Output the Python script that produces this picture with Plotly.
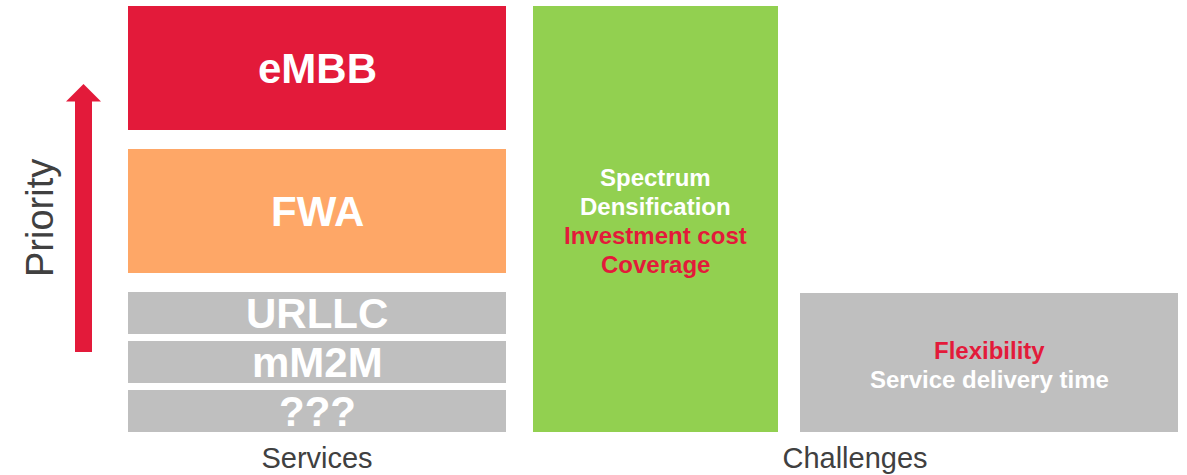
import plotly.graph_objects as go

# ---- data ----
categories = ["Services", "Challenges"]
service_names = ["???", "mM2M", "URLLC", "FWA", "eMBB"]
service_values = [42, 42, 42, 124, 124]
service_gaps = [7, 7, 19, 19]          # spacing above each segment
challenge_groups = ["Technical", "Operational"]
challenge_values = [426, 139]
challenge_texts = [
    ["Spectrum", "Densification", "Investment cost", "Coverage"],
    ["Flexibility", "Service delivery time"],
]
challenge_text_red = [
    [False, False, True, True],
    [True, False],
]

# ---- style / layout constants ----
RED = "#E31A3A"
ORANGE = "#FEA767"
GREY = "#BFBFBF"
GREEN = "#92D050"
FONT = "Liberation Sans, Arial"
service_colors = [GREY, GREY, GREY, ORANGE, RED]
challenge_colors = [GREEN, GREY]

services_center = 317
services_width = 378
challenge_centers = [655.5, 989]
challenge_widths = [245, 378]
category_ticks = [services_center, 855]
line_step = 29

fig = go.Figure()
annotations = []

# services stacked blocks
bases = []
b = 0
for i, v in enumerate(service_values):
    bases.append(b)
    b += v + (service_gaps[i] if i < len(service_gaps) else 0)

for name, v, base, col in zip(service_names, service_values, bases, service_colors):
    fig.add_trace(go.Bar(
        x=[services_center], y=[v], base=[base], width=[services_width],
        marker=dict(color=col, line=dict(width=0)), name=name,
        showlegend=False, hoverinfo="skip",
    ))
    annotations.append(dict(
        x=services_center, y=base + v / 2, xref="x", yref="y",
        text=f"<b>{name}</b>", showarrow=False,
        font=dict(family=FONT, size=42, color="white"),
        xanchor="center", yanchor="middle",
    ))

# challenges
for xc, w, v, col, lines, reds in zip(challenge_centers, challenge_widths, challenge_values,
                                       challenge_colors, challenge_texts, challenge_text_red):
    fig.add_trace(go.Bar(
        x=[xc], y=[v], base=[0], width=[w],
        marker=dict(color=col, line=dict(width=0)),
        showlegend=False, hoverinfo="skip",
    ))
    n = len(lines)
    mid = v / 2 - 2
    for k, (t, r) in enumerate(zip(lines, reds)):
        annotations.append(dict(
            x=xc, y=mid + ((n - 1) / 2 - k) * line_step, xref="x", yref="y",
            text=f"<b>{t}</b>", showarrow=False,
            font=dict(family=FONT, size=24, color=RED if r else "white"),
            xanchor="center", yanchor="middle",
        ))

# Priority label
annotations.append(dict(
    x=40, y=1 - (218 - 6) / 426, xref="x", yref="paper", text="Priority",
    showarrow=False, textangle=-90,
    font=dict(family=FONT, size=38, color="#404040"),
    xanchor="center", yanchor="middle",
))

# Priority arrow (shaft + head)
shapes = [
    dict(type="path", xref="x", yref="y",
         path="M 75 80 L 92 80 L 92 330.5 L 101 330.5 L 83.5 348 L 66 330.5 L 75 330.5 Z",
         fillcolor=RED, line=dict(width=0)),
]

fig.update_layout(
    width=1187, height=475,
    margin=dict(l=0, r=0, t=6, b=43),
    paper_bgcolor="white", plot_bgcolor="white",
    barmode="overlay",
    annotations=annotations, shapes=shapes,
    xaxis=dict(range=[0, 1187], tickmode="array", tickvals=category_ticks, ticktext=categories,
               showgrid=False, zeroline=False, showline=False, ticks="",
               ticklabelstandoff=6,
               tickfont=dict(family=FONT, size=29, color="#404040"),
               fixedrange=True),
    yaxis=dict(range=[0, 426], visible=False, fixedrange=True),
    showlegend=False,
)

fig.write_html("out.html", config={"displayModeBar": False},
               post_script="document.body.style.margin='0';document.body.style.overflow='hidden';")
